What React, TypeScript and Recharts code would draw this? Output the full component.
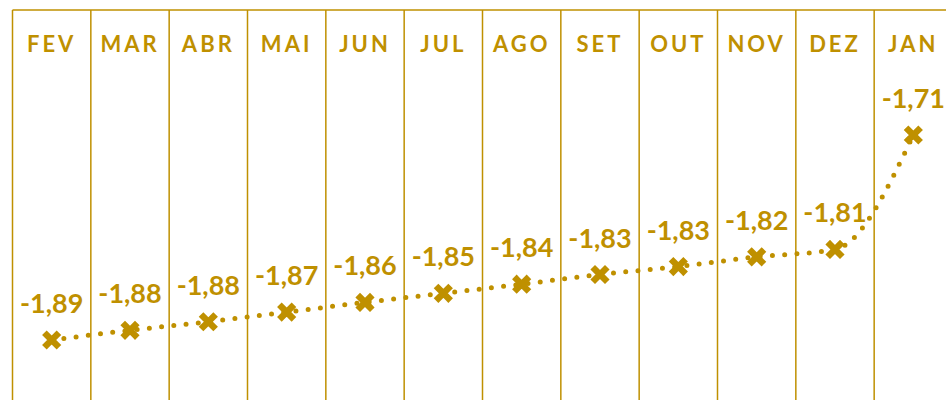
// @ts-nocheck
import React from 'react'
import { LineChart, Line, XAxis, YAxis, CartesianGrid } from 'recharts'

const months = ['FEV', 'MAR', 'ABR', 'MAI', 'JUN', 'JUL', 'AGO', 'SET', 'OUT', 'NOV', 'DEZ', 'JAN']
const values = [-1.892, -1.8835, -1.876, -1.8675, -1.859, -1.851, -1.843, -1.8345, -1.8275, -1.819, -1.8125, -1.712]
const yDomain = [-1.9535, -1.6022]

const GOLD = '#BF9000'
const FONT = 'Lato, "Open Sans", sans-serif'

const data = months.map((m, i) => ({ month: m, v: values[i] }))

const fmt = (v: number) => v.toFixed(2).replace('.', ',')

const MonthTick = ({ x, y, payload }: any) => (
  <text x={x} y={y + 42} textAnchor="middle" fill={GOLD} fontFamily={FONT} fontWeight={700} fontSize={22} letterSpacing={3}>
    {payload.value}
  </text>
)

const XDot = ({ cx, cy, index }: any) => {
  if (cx == null || cy == null) return null
  const r = 5
  return (
    <path key={'d' + index} d={`M${cx - r},${cy - r}L${cx + r},${cy + r}M${cx + r},${cy - r}L${cx - r},${cy + r}`}
      stroke={GOLD} strokeWidth={6.5} strokeLinecap="square" fill="none" />
  )
}

const ValueLabel = ({ x, y, value, index }: any) => (
  <text key={'l' + index} x={x} y={y - 27} textAnchor="middle" fill={GOLD} fontFamily={FONT} fontWeight={700} fontSize={27}>
    {fmt(value)}
  </text>
)

export default function App(){
  // column borders sit between categories, not on them
  const colLines = ({ offset }: any) => {
    const step = offset.width / months.length
    return Array.from({ length: months.length + 1 }, (_, i) => offset.left + i * step)
  }

  return (
    <div style={{ position: 'absolute', left: 0, top: 0, width: 946, height: 400, overflow: 'hidden', background: '#fff' }}>
      <LineChart width={960} height={410} data={data} margin={{ top: 9, right: 7.5, left: 12.5, bottom: 0 }}>
        <CartesianGrid horizontal={false} vertical verticalCoordinatesGenerator={colLines} stroke={GOLD} strokeWidth={1.5} />
        <XAxis dataKey="month" orientation="top" scale="band" height={1} axisLine={{ stroke: GOLD, strokeWidth: 1.5 }} tickLine={false} tickSize={0} tickMargin={0} tick={<MonthTick />} interval={0} />
        <YAxis hide type="number" domain={yDomain} allowDataOverflow />
        <Line dataKey="v" type="monotone" stroke={GOLD} strokeWidth={5} strokeDasharray="0 12.3" strokeLinecap="round"
          dot={<XDot />} activeDot={false} label={<ValueLabel />} isAnimationActive={false} />
      </LineChart>
    </div>
  )
}
